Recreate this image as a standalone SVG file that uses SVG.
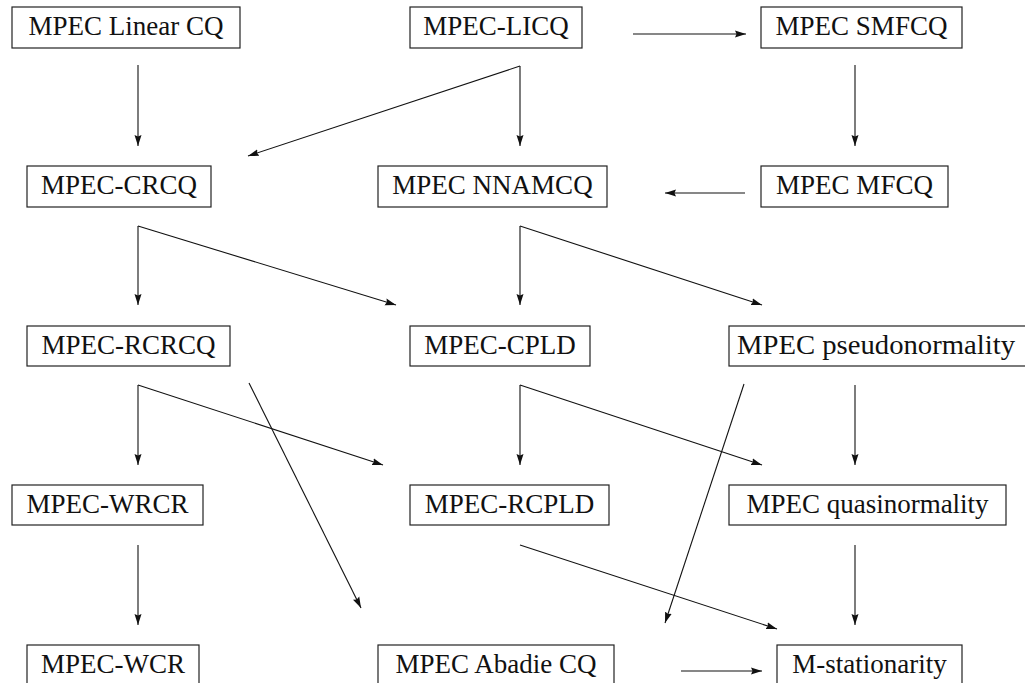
<svg xmlns="http://www.w3.org/2000/svg" width="1025" height="683" viewBox="0 0 1025 683">
<style>
.box{fill:#fff;stroke:#222;stroke-width:1.2}
.c line{stroke:#111;stroke-width:1.1;fill:none;marker-end:url(#ah)}
</style>
<defs>
<marker id="ah" markerUnits="userSpaceOnUse" markerWidth="12" markerHeight="8" refX="11" refY="4" orient="auto">
<path d="M0,0.5 L11,4 L0,7.5 L1.5,4 Z" fill="#111"/>
</marker>
</defs>
<g class="c" id="connectors">
<line x1="633" y1="34" x2="746" y2="34"/>
<line x1="138" y1="65" x2="138" y2="146"/>
<line x1="520" y1="66" x2="520" y2="146"/>
<line x1="520" y1="66" x2="248" y2="156"/>
<line x1="855" y1="65" x2="855" y2="146"/>
<line x1="745" y1="193" x2="665" y2="193"/>
<line x1="138" y1="226" x2="138" y2="305"/>
<line x1="138" y1="226" x2="396" y2="305"/>
<line x1="520" y1="226" x2="520" y2="305"/>
<line x1="520" y1="226" x2="762" y2="305"/>
<line x1="138" y1="385" x2="138" y2="465"/>
<line x1="138" y1="385" x2="383" y2="465"/>
<line x1="249" y1="383" x2="361" y2="608"/>
<line x1="520" y1="385" x2="520" y2="465"/>
<line x1="520" y1="385" x2="762" y2="465"/>
<line x1="744" y1="384" x2="665" y2="623"/>
<line x1="855" y1="385" x2="855" y2="465"/>
<line x1="138" y1="545" x2="138" y2="625"/>
<line x1="520" y1="545" x2="777" y2="629"/>
<line x1="855" y1="545" x2="855" y2="625"/>
<line x1="681" y1="671" x2="762" y2="671"/>
</g>
<g font-size="27" fill="#111" text-anchor="middle">
<g id="n-linear"><rect class="box" x="12" y="7" width="228" height="41"/><text font-family="Liberation Serif" x="126" y="35">MPEC Linear CQ</text></g>
<g id="n-licq"><rect class="box" x="410" y="7" width="172" height="41"/><text font-family="Liberation Serif" x="496" y="35">MPEC-LICQ</text></g>
<g id="n-smfcq"><rect class="box" x="761" y="7" width="201" height="41"/><text font-family="Liberation Serif" x="861.5" y="35">MPEC SMFCQ</text></g>
<g id="n-crcq"><rect class="box" x="27" y="166" width="184" height="41"/><text font-family="Liberation Serif" x="119" y="194">MPEC-CRCQ</text></g>
<g id="n-nnamcq"><rect class="box" x="378" y="166" width="229" height="41"/><text font-family="Liberation Serif" x="492.5" y="194">MPEC NNAMCQ</text></g>
<g id="n-mfcq"><rect class="box" x="761" y="166" width="187" height="41"/><text font-family="Liberation Serif" x="854.5" y="194">MPEC MFCQ</text></g>
<g id="n-rcrcq"><rect class="box" x="27" y="326" width="203" height="40"/><text font-family="Liberation Serif" x="128.5" y="354">MPEC-RCRCQ</text></g>
<g id="n-cpld"><rect class="box" x="410" y="326" width="180" height="40"/><text font-family="Liberation Serif" x="500" y="354">MPEC-CPLD</text></g>
<g id="n-pseudo"><rect class="box" x="729" y="326" width="298" height="40"/><text font-family="Liberation Serif" x="876" y="354" textLength="278" lengthAdjust="spacingAndGlyphs">MPEC pseudonormality</text></g>
<g id="n-wrcr"><rect class="box" x="12" y="485" width="191" height="40"/><text font-family="Liberation Serif" x="107.5" y="513">MPEC-WRCR</text></g>
<g id="n-rcpld"><rect class="box" x="410" y="485" width="199" height="40"/><text font-family="Liberation Serif" x="509.5" y="513">MPEC-RCPLD</text></g>
<g id="n-quasi"><rect class="box" x="729" y="485" width="277" height="40"/><text font-family="Liberation Serif" x="867.5" y="513">MPEC quasinormality</text></g>
<g id="n-wcr"><rect class="box" x="27" y="645" width="172" height="41"/><text font-family="Liberation Serif" x="113" y="673">MPEC-WCR</text></g>
<g id="n-abadie"><rect class="box" x="378" y="645" width="236" height="41"/><text font-family="Liberation Serif" x="496" y="673">MPEC Abadie CQ</text></g>
<g id="n-mstat"><rect class="box" x="777" y="645" width="185" height="41"/><text font-family="Liberation Serif" x="869.5" y="673">M-stationarity</text></g>
</g>
</svg>
